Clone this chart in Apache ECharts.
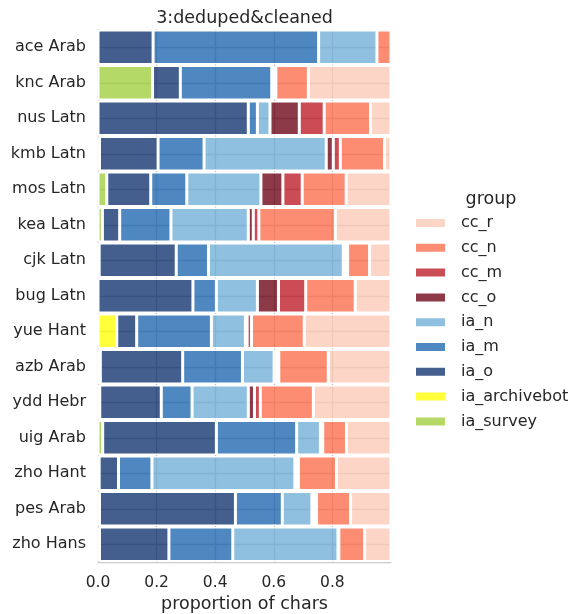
<!DOCTYPE html>
<html>
<head>
<meta charset="utf-8">
<script src="https://cdn.jsdelivr.net/npm/echarts@6/dist/echarts.min.js"></script>
<style>html,body{margin:0;padding:0;background:#fff;}#c{width:576px;height:614px;}</style>
</head>
<body>
<div id="c"></div>
<script>
const categories = ['ace Arab','knc Arab','nus Latn','kmb Latn','mos Latn','kea Latn','cjk Latn','bug Latn','yue Hant','azb Arab','ydd Hebr','uig Arab','zho Hant','pes Arab','zho Hans'];
const ia_survey     = [0, 0.186, 0, 0.005, 0.03, 0.015, 0.004, 0, 0, 0.008, 0.006, 0.016, 0.004, 0.005, 0.005];
const ia_archivebot = [0, 0, 0, 0, 0, 0, 0, 0, 0.064, 0, 0, 0, 0, 0, 0];
const ia_o = [0.188, 0.095, 0.513, 0.2, 0.15, 0.059, 0.263, 0.324, 0.068, 0.281, 0.21, 0.388, 0.066, 0.464, 0.237];
const ia_m = [0.565, 0.312, 0.031, 0.157, 0.123, 0.175, 0.11, 0.08, 0.255, 0.204, 0.105, 0.274, 0.114, 0.16, 0.218];
const ia_n = [0.199, 0.008, 0.043, 0.417, 0.253, 0.264, 0.46, 0.14, 0.116, 0.108, 0.192, 0.081, 0.488, 0.101, 0.359];
const cc_o = [0, 0.003, 0.10, 0.024, 0.075, 0.017, 0.005, 0.072, 0.006, 0.006, 0.021, 0.003, 0.004, 0.006, 0.002];
const cc_m = [0, 0.003, 0.085, 0.024, 0.066, 0.019, 0.01, 0.093, 0.015, 0.01, 0.02, 0.005, 0.008, 0.01, 0.001];
const cc_n = [0.048, 0.111, 0.158, 0.151, 0.15, 0.261, 0.075, 0.169, 0.18, 0.169, 0.181, 0.081, 0.13, 0.116, 0.088];
const cc_r = [0, 0.282, 0.07, 0.022, 0.153, 0.19, 0.073, 0.122, 0.296, 0.214, 0.265, 0.152, 0.186, 0.138, 0.09];
const xTicks = [0, 0.2, 0.4, 0.6, 0.8];

const seriesNames = ['ia_survey','ia_archivebot','ia_o','ia_m','ia_n','cc_o','cc_m','cc_n','cc_r'];
const seriesData = [ia_survey, ia_archivebot, ia_o, ia_m, ia_n, cc_o, cc_m, cc_n, cc_r];
const seriesColors = [
  'rgba(162,207,64,0.8)', 'rgba(255,255,9,0.8)', 'rgba(21,55,114,0.8)', 'rgba(35,106,176,0.8)',
  'rgba(115,176,215,0.8)', 'rgba(111,9,26,0.8)', 'rgba(190,31,41,0.8)', 'rgba(251,112,80,0.8)',
  'rgba(252,203,184,0.8)'
];
const FONT = 'DejaVu Sans';
const TXT = '#262626';

const chart = echarts.init(document.getElementById('c'), null, {renderer: 'canvas'});
chart.setOption({
  animation: false,
  backgroundColor: '#ffffff',
  textStyle: {fontFamily: FONT, color: TXT},
  grid: {left: 98, right: 185, top: 29.5, bottom: 52, containLabel: false, outerBoundsMode: 'none'},
  graphic: [
    {type: 'text', x: 244.5, y: 18, style: {text: '3:deduped&cleaned', font: '17.5px "DejaVu Sans"', fill: TXT, textAlign: 'center', textVerticalAlign: 'middle'}},
    {type: 'text', x: 491, y: 199, style: {text: 'group', font: '17.5px "DejaVu Sans"', fill: TXT, textAlign: 'center', textVerticalAlign: 'middle'}}
  ],
  legend: {
    orient: 'vertical', left: 414, top: 215, padding: 0,
    data: seriesNames.slice().reverse(),
    icon: 'rect', itemWidth: 31, itemHeight: 10, itemGap: 8.8,
    textStyle: {fontFamily: FONT, fontSize: 16, color: TXT, padding: [0, 0, 0, 10], lineHeight: 16},
    selectedMode: false
  },
  xAxis: {
    type: 'value', min: 0, max: 1, interval: 0.2,
    name: 'proportion of chars', nameLocation: 'middle', nameGap: 32,
    nameTextStyle: {fontFamily: FONT, fontSize: 17.5, color: TXT},
    axisLine: {show: true, lineStyle: {color: '#cccccc', width: 1.25}},
    axisTick: {show: false},
    axisLabel: {fontFamily: FONT, fontSize: 15.5, color: TXT, margin: 13, showMaxLabel: false,
      formatter: v => xTicks.indexOf(v) >= 0 ? v.toFixed(1) : ''},
    splitLine: {show: true, showMinLine: false, showMaxLine: false, lineStyle: {color: '#bdbdbd', width: 1.3}}
  },
  yAxis: {
    type: 'category', data: categories, inverse: true,
    axisLine: {show: true, lineStyle: {color: '#cccccc', width: 1.25}},
    axisTick: {show: false},
    axisLabel: {fontFamily: FONT, fontSize: 16, color: TXT, margin: 12},
    splitLine: {show: true, alignWithLabel: true, lineStyle: {color: '#bdbdbd', width: 1.3}}
  },
  series: seriesNames.map((n, i) => ({
    name: n, type: 'bar', stack: 'all',
    data: seriesData[i],
    barCategoryGap: '3%',
    itemStyle: {color: seriesColors[i], borderColor: '#ffffff', borderWidth: 1.5},
    emphasis: {disabled: true}
  }))
});
</script>
</body>
</html>
